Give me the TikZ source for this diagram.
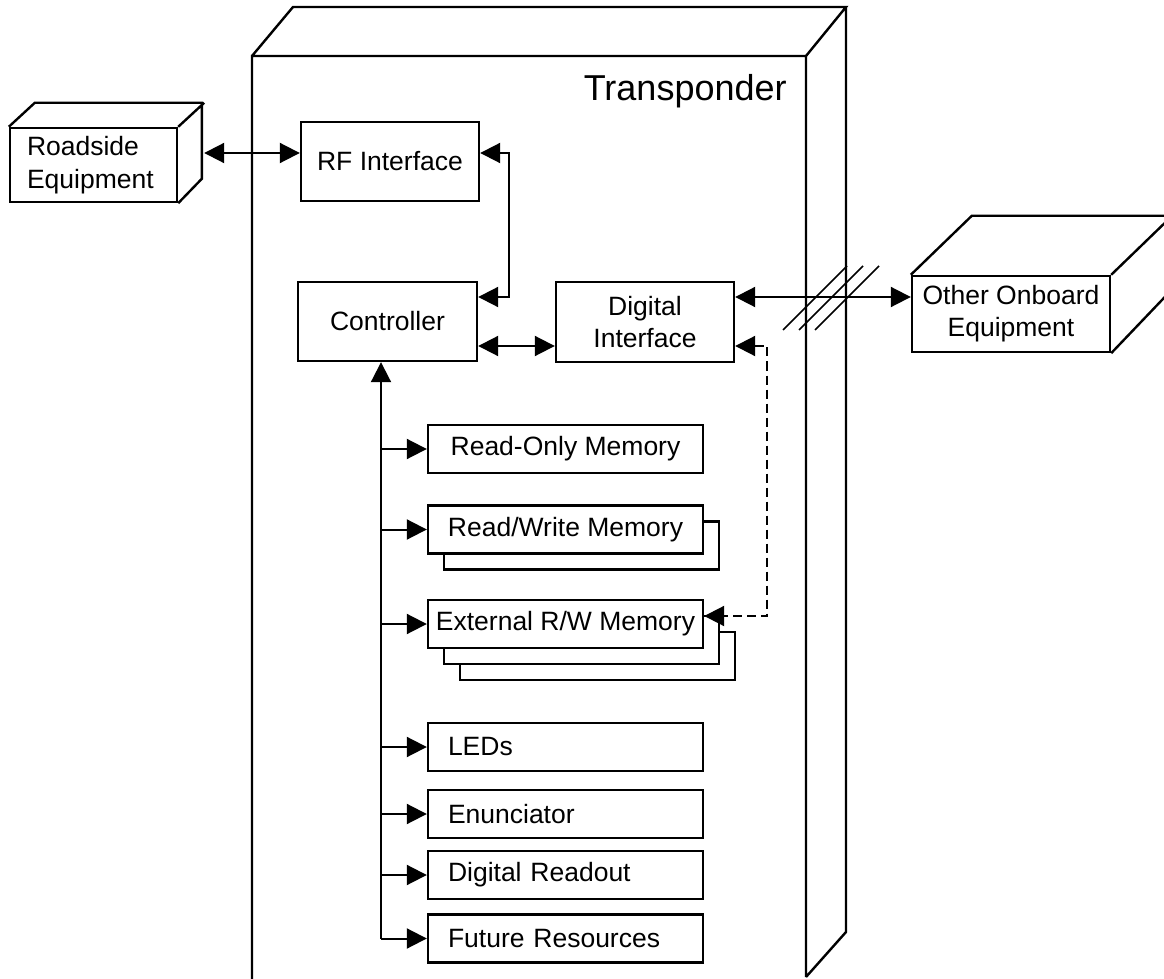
\documentclass[tikz,border=0pt]{standalone}
\usepackage{fontspec}
\setmainfont{Liberation Sans}
\usetikzlibrary{arrows.meta,calc}
\newcommand\boxfont{\fontsize{13.25pt}{16pt}\selectfont}
\tikzset{
  wall/.style={line width=1.2pt,line join=miter},
  box/.style={draw=black,line width=1.2pt,fill=white,inner sep=0pt,align=center,font=\boxfont},
  membox/.style={box,minimum width=137.5pt,minimum height=24pt},
  outbox/.style={membox,align=left,text width=117.5pt},
  dbl/.style={line width=1pt,{Triangle[length=10pt,width=10pt]}-{Triangle[length=10pt,width=10pt]}},
  sgl/.style={line width=1pt,-{Triangle[length=10pt,width=10pt]}},
  hatch/.style={line width=0.8pt}
}
\begin{document}
\begin{tikzpicture}[x=0.5pt,y=-0.5pt]
    \useasboundingbox (0,0) rectangle (1164,979);
    \draw[wall]
      (252,979) -- (252,56) -- (806,56) -- (806,977)
      (252,56) -- (293,7) -- (846,7) -- (806,56)
      (846,7) -- (846,932) -- (806,977);
    \node[anchor=base east,inner sep=0pt,font=\fontsize{18pt}{20pt}\selectfont] (title) at (787,101) {Transponder};
    \node[box,align=left,text width=66.5pt,minimum width=83.5pt,minimum height=37pt,font=\fontsize{13.25pt}{16.5pt}\selectfont] (rse) at (93.5,165) {Roadside\\Equipment};
    \draw[wall] (rse.north west) -- ++(26,-24) -- ++(167,0) -- ++(0,76) -- (rse.south east)
      (rse.north east) -- ++(26,-24);
    \node[box,minimum width=89pt,minimum height=39.5pt] (rf) at (390,161.5) {RF Interface};
    \node[box,minimum width=89.5pt,minimum height=39.5pt] (ctrl) at (387.5,321.5) {Controller};
    \node[box,minimum width=89pt,minimum height=40pt] (dig) at (645,322) {Digital\\Interface};
    \node[box,minimum width=99pt,minimum height=38pt] (oob) at (1011,314) {Other Onboard\\Equipment};
    \draw[wall] (oob.north west) -- ++(61,-59) -- ++(198,0) -- ++(0,76) -- (oob.south east)
      (oob.north east) -- ++(61,-59);
    \node[membox] (rom) at (565.5,449) {Read-Only Memory};
    \node[membox] (rw2) at (581.5,545.5) {};
    \node[membox] (rw) at (565.5,529.5) {Read/Write Memory};
    \node[membox] (ext3) at (597.5,656) {};
    \node[membox] (ext2) at (581.5,640) {};
    \node[membox] (ext) at (565.5,624) {External R/W Memory};
    \node[outbox] (leds) at (565.5,747) {LEDs};
    \node[outbox] (enun) at (565.5,814) {Enunciator};
    \node[outbox] (drd) at (565.5,875) {Digital Readout};
    \node[outbox] (fut) at (565.5,938.5) {Future Resources};
    \coordinate (bus) at (381,938.5);
    \draw[dbl] ($(rse.east)+(26,-12)$) -- ($(rf.west)+(0,-8.5)$);
    \draw[dbl] ($(rf.east)+(0,-8.5)$) -- ++(29,0) |- ($(ctrl.east)+(0,-24.5)$);
    \draw[dbl] ($(ctrl.east)+(0,24.5)$) -- ($(dig.west)+(0,24)$);
    \draw[dbl] ($(dig.east)+(0,-25)$) -- ($(oob.west)+(0,-17)$);
    \draw[dbl,dash pattern=on 4.5pt off 2.5pt] ($(dig.east)+(0,24)$) -- ++(32,0) |- ($(ext.east)+(0,-8)$);
    \draw[hatch]
      (783,330) -- ++(64,-64)
      (799,330) -- ++(64,-64)
      (815,330) -- ++(64,-64);
    \draw[sgl] (bus) -- (bus |- ctrl.south);
    \draw[sgl] (bus |- rom.west) -- (rom.west);
    \draw[sgl] (bus |- rw.west) -- (rw.west);
    \draw[sgl] (bus |- ext.west) -- (ext.west);
    \draw[sgl] (bus |- leds.west) -- (leds.west);
    \draw[sgl] (bus |- enun.west) -- (enun.west);
    \draw[sgl] (bus |- drd.west) -- (drd.west);
    \draw[sgl] (bus) -- (fut.west);
\end{tikzpicture}
\end{document}
